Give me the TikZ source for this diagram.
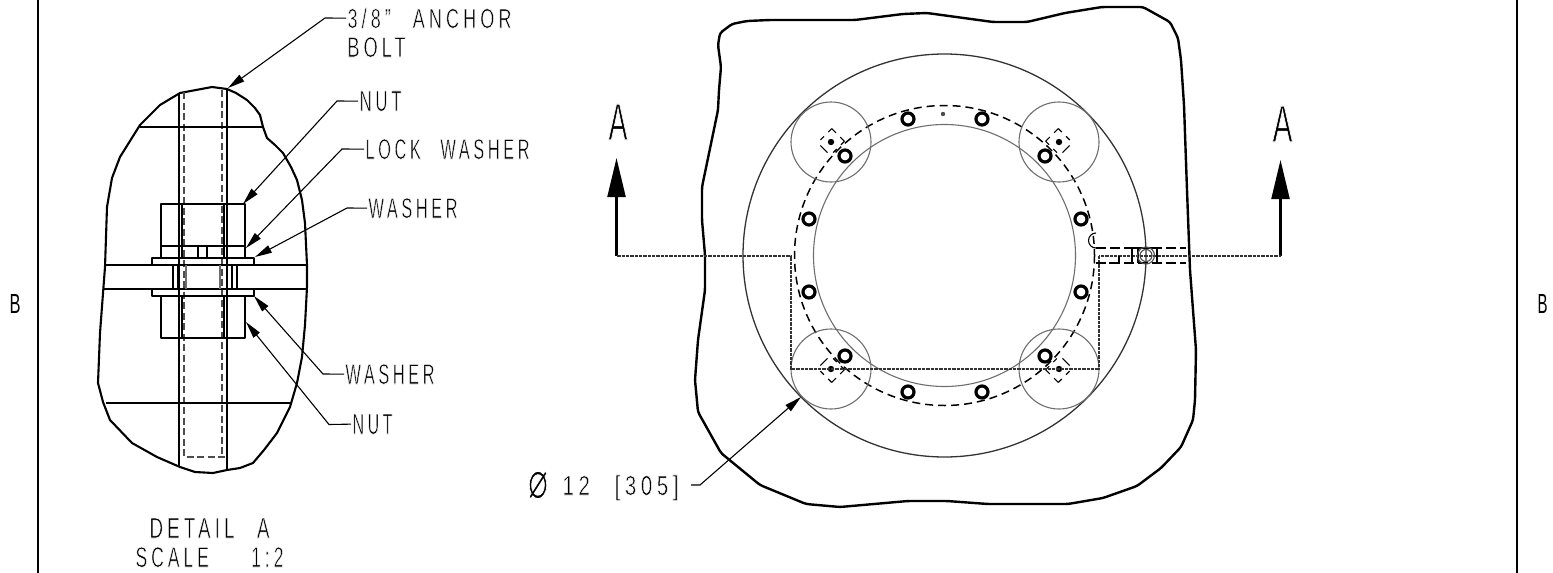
\documentclass[tikz,border=0pt]{standalone}
\usepackage{fontspec}
\usepackage{graphicx}
\setmainfont[LetterSpace=22]{Liberation Sans}
\newfontfamily\phifont{DejaVu Sans}
\usetikzlibrary{arrows.meta}
\newcommand\thinon{\special{pdf:code q 2 Tr 1 1 1 RG 0.2 w}}
\newcommand\thinoff{\special{pdf:code Q}}
\newcommand\cad[3]{\resizebox{#1pt}{#2pt}{\thinon #3\thinoff}}
\newcommand\wsp{\hspace{1.2em}}
\definecolor{lg}{HTML}{6E6E6E}
\tikzset{
  x=1pt,y=-1pt,
  heavy/.style={line width=2.1pt,black,line join=round},
  txt/.style={inner sep=0pt,outer sep=1.5pt,anchor=base west,black},
  lead/.style={line width=1.1pt,black,-{Triangle[length=17pt,width=8pt]}},
  hid/.style={line width=1.4pt,black!70,dash pattern=on 7pt off 3.5pt},
  dotline/.style={line width=2pt,black!80,dash pattern=on 0.8pt off 0.5pt},
  secarrow/.style={line width=2.2pt,black,-{Triangle[length=39pt,width=18pt]}},
  boltc/.style={line width=3.2pt,black},
  thinc/.style={line width=1.1pt,lg},
  bigc/.style={line width=1.3pt,black!80},
  dashc/.style={line width=1.5pt,black,dash pattern=on 8pt off 5pt},
  tick/.style={line width=1.1pt,black},
}
\begin{document}
\begin{tikzpicture}
\useasboundingbox (0,0) rectangle (1553,573);
% frame lines
\draw[line width=2pt] (38,0) coordinate (fa) -- (38,573) coordinate (fb);
\draw[line width=2pt] (1517,0) coordinate (fc) -- (1517,573) coordinate (fd);
\node[txt] (bl) at (8,313) {\resizebox{11pt}{19pt}{B}};
\node[txt] (br) at (1536,313) {\resizebox{10pt}{19pt}{B}};
% ===== Detail A =====
\draw[heavy] (227,89) -- (236,93) -- (247,100) -- (255,108) -- (260,115) -- (263,127) -- (267,138) -- (275,145) -- (283,153) -- (291,167) -- (297,180) -- (302,200) -- (305,223) -- (307,265) -- (307,287) -- (305,325) -- (302,357) -- (297,383) -- (290,407) -- (277,433) -- (264,450) -- (253,463) -- (240,468) -- (227,470) -- (213,473) -- (195,472) -- (180,467) -- (157,457) -- (132,443) -- (110,420) -- (103,402) -- (98,383) -- (100,333) -- (105,267) -- (107,207) -- (112,178) -- (120,157) -- (140,125) -- (160,105) -- (180,93) -- (212,87) -- cycle;
% bolt outlines
\draw[heavy] (179,93) -- (179,467);
\draw[heavy] (227,89) -- (227,470);
\draw[hid] (184,92) -- (184,457) -- (227,457);
\draw[hid] (222,90) -- (222,457);
% base lines
\draw[heavy] (140,127) -- (264,127);
\draw[heavy] (106,403) -- (291,403);
\draw[heavy] (104,265) -- (307,265);
\draw[heavy] (104,289) -- (307,289);
% nuts
\draw[heavy] (161,246) -- (161,204) -- (245,204) -- (245,246);
\draw[heavy] (161,296) -- (161,338) -- (245,338) -- (245,296);
\draw[heavy] (182,204) -- (182,258) (224,204) -- (224,258);
\draw[heavy] (182,296) -- (182,338) (224,296) -- (224,338);
% lock washer
\draw[heavy] (161,246) rectangle (245,258);
\draw[heavy] (198,246) -- (198,258) (207,246) -- (207,258);
% washers
\draw[heavy] (152,265) -- (152,258) -- (254,258) -- (254,265);
\draw[heavy] (152,289) -- (152,296) -- (254,296) -- (254,289);
% plate hole
\draw[heavy] (173,265) -- (173,289) (178,265) -- (178,289) (232,265) -- (232,289) (237,265) -- (237,289);
\draw[line width=1.3pt,lg] (186,265) -- (186,289) (220,265) -- (220,289);
% Detail A leaders
\coordinate (tipAnchor) at (228,88);
\coordinate (tipNutT) at (243,204);
\coordinate (tipLock) at (246,248);
\coordinate (tipWashT) at (255,257);
\coordinate (tipWashB) at (254,296);
\coordinate (tipNutB) at (246,322);
\node[txt] (tAnchor) at (346,28) {\cad{164}{20}{3/8"\wsp ANCHOR}};
\node[txt] (tBolt) at (346,57) {\cad{58}{20}{BOLT}};
\node[txt] (tNutT) at (358,111) {\cad{42}{20}{NUT}};
\node[txt] (tLock) at (364,159) {\cad{164}{20}{LOCK\wsp WASHER}};
\node[txt] (tWashT) at (367,218) {\cad{89}{20}{WASHER}};
\node[txt] (tWashB) at (344,384) {\cad{89}{20}{WASHER}};
\node[txt] (tNutB) at (351,434) {\cad{40}{20}{NUT}};
\draw[lead] (tAnchor.west) -- (325,18) -- (tipAnchor);
\draw[lead] (tNutT.west) -- (337,101) -- (tipNutT);
\draw[lead] (tLock.west) -- (342,149) -- (tipLock);
\draw[lead] (tWashT.west) -- (347,208) -- (tipWashT);
\draw[lead] (tWashB.west) -- (323,374) -- (tipWashB);
\draw[lead] (tNutB.west) -- (329,424.5) -- (tipNutB);
\node[txt] (tDetail) at (148,538) {\cad{120}{20}{DETAIL\wsp A}};
\node[txt] (tScale) at (134,567) {\cad{148}{20}{SCALE\wsp\wsp 1:2}};
% ===== Plan view =====
\draw[heavy,line width=2.4pt,rounded corners=3pt] (721,67) -- (718,45) -- (720,33) -- (732,24) -- (747,21) -- (770,20) -- (825,20) -- (855,20) -- (903,14) -- (927,13) -- (993,22) -- (1027,22) -- (1065,13) -- (1102,7) -- (1143,7) -- (1170,22) -- (1178,38) -- (1181,60) -- (1184,105) -- (1187,190) -- (1190,270) -- (1196,350) -- (1195,400) -- (1193,420) -- (1181,447) -- (1161,468) -- (1137,486) -- (1103,498) -- (1068,504) -- (1030,504) -- (988,504) -- (947,501) -- (908,501) -- (840,507) -- (806,504) -- (760,485) -- (721,453) -- (698,412) -- (695,380) -- (698,340) -- (705,290) -- (705,255) -- (702,220) -- (702,187) -- (718,110) -- (719,90) -- cycle;
\draw[bigc] (944.5,255.5) circle[radius=201.5];
\draw[thinc] (944.5,255.5) circle[radius=131];
\draw[dashc] (944.5,255.5) circle[radius=150];
\foreach \p in {(831,142),(1059,142),(831,369),(1059,369)} \draw[thinc] \p circle[radius=40];
\foreach \p in {(908,119),(982,119),(845,156),(1045,156),(809,219),(1081,219),(809,292),(1081,292),(845,356),(1045,356),(908,392),(982,392)} \draw[boltc] \p circle[radius=6];
\foreach \p in {(831,142),(1059,142),(831,369),(1059,369)} \fill[black] \p circle[radius=3.2];
\fill[black!70] (943,114) circle[radius=2.2];
% corner marks (local u points to the centre)
\foreach \cx/\cy/\ang in {831/142/45,1059/142/135,831/369/-45,1059/369/-135} {
  \begin{scope}[shift={(\cx,\cy)},rotate=\ang]
    \draw[tick] (-10,-5) -- (-10,5);
    \draw[tick] (-6,-9) -- (-1,-9) (-6,9) -- (-1,9);
    \draw[tick] (5,-9) -- (10,-9) (5,9) -- (10,9);
    \draw[tick] (10,-9) -- (10,-3) (10,3) -- (10,9);
  \end{scope}
}
% section line
\coordinate (secL) at (616.5,158);
\coordinate (secR) at (1280.5,160);
\draw[secarrow] (616.5,255.5) coordinate (sl) -- (secL);
\draw[secarrow] (1280.5,255.5) coordinate (sr) -- (secR);
\draw[dotline] (sl) -- (791,255.5) -- (791,369) -- (1099,369) -- (1099,255.5) -- (sr);
\node[txt] (aL) at (607,140) {\cad{19}{36}{A}};
\node[txt] (aR) at (1271,142) {\cad{20}{36}{A}};
% side detail at the section line
\draw[tick,dash pattern=on 10pt off 4pt] (1096,248) -- (1186,248);
\draw[tick,dash pattern=on 10pt off 4pt] (1096,263) -- (1186,263);
\draw[tick] (1096,248) arc[start angle=90,end angle=270,radius=7.5];
\draw[line width=1.7pt] (1109,263) -- (1119,263) -- (1119,256);
\draw[tick] (1132,263) -- (1132,248) -- (1157,248) -- (1157,263);
\draw[tick] (1138,248) -- (1138,263);
\draw[line width=1.1pt,black!70] (1146,255.5) circle[radius=8.5] (1146,255.5) circle[radius=6];
% diameter callout
\coordinate (tipDia) at (801,397);
\node[txt] (tDia) at (561,495) {\cad{116}{20}{12\wsp [305]}};
\node[inner sep=0pt,outer sep=0pt] (tPhi) at (538,485) {\phifont\cad{20}{27}{⌀}};
\coordinate (diaEnd) at (691,485);
\draw[lead] (diaEnd) -- (700,485) -- (tipDia);
\end{tikzpicture}
\end{document}
